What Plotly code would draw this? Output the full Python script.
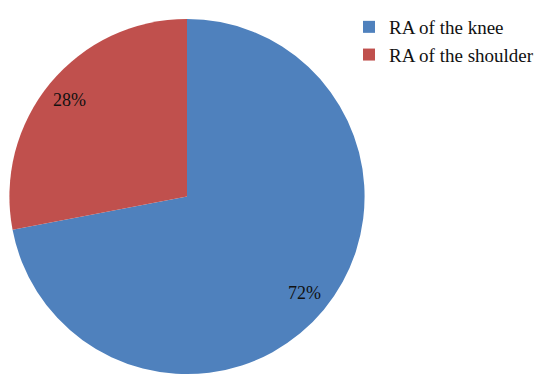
import math
import plotly.graph_objects as go

labels = ["RA of the knee", "RA of the shoulder"]
values = [72, 28]
colors = ["#4F81BD", "#C0504D"]

# page body keeps its default 8px margin, so the figure is drawn 8px smaller
W, H = 542, 379
dom_x = [0.0, 0.6605]
dom_y = [0.0343, 0.9789]

fig = go.Figure(go.Pie(
    labels=labels,
    values=values,
    marker=dict(colors=colors),
    sort=False,
    direction="clockwise",
    rotation=0,
    textinfo="none",
    hoverinfo="label+percent",
    domain=dict(x=dom_x, y=dom_y),
))

# percent labels placed along each slice's middle angle
total = sum(values)
radius_px = min((dom_x[1] - dom_x[0]) * W, (dom_y[1] - dom_y[0]) * H) / 2
cx = (dom_x[0] + dom_x[1]) / 2
cy = (dom_y[0] + dom_y[1]) / 2
start = 0
for v in values:
    mid = (start + v / 2) / total * 2 * math.pi
    start += v
    r = 0.85 * radius_px
    fig.add_annotation(
        x=cx + r * math.sin(mid) / W,
        y=cy + r * math.cos(mid) / H,
        xref="paper", yref="paper",
        xanchor="center", yanchor="middle",
        text=f"{round(v / total * 100)}%",
        showarrow=False,
        font=dict(family="Liberation Serif", size=18, color="#111111"),
    )

fig.update_layout(
    width=W,
    height=H,
    margin=dict(l=0, r=0, t=0, b=0),
    paper_bgcolor="white",
    font=dict(family="Liberation Serif", size=19, color="#111111"),
    legend=dict(x=0.6292, y=1.008, xanchor="left", yanchor="top",
                tracegroupgap=0),
    showlegend=True,
)

fig.write_html("out.html")
